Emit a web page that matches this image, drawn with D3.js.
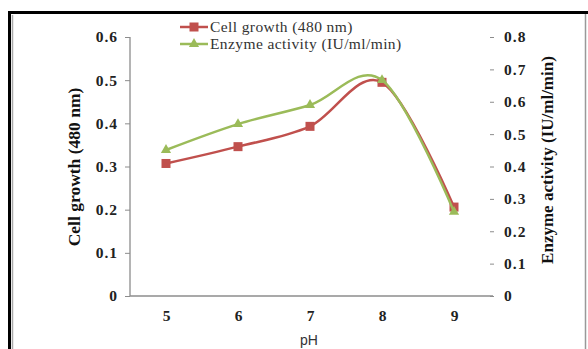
<!DOCTYPE html>
<html>
<head>
<meta charset="utf-8">
<script src="https://cdn.jsdelivr.net/npm/d3@7/dist/d3.min.js"></script>
<style>
  html, body { margin: 0; padding: 0; background: #fff; }
  svg { display: block; }
</style>
</head>
<body>
<svg id="chart" width="588" height="349"></svg>
<script>
const categories = ["5", "6", "7", "8", "9"];
const cellGrowth = [0.307, 0.346, 0.393, 0.495, 0.206];
const enzymeActivity = [0.451, 0.531, 0.59, 0.667, 0.26];
const leftTicks = [0, 0.1, 0.2, 0.3, 0.4, 0.5, 0.6];
const rightTicks = [0, 0.1, 0.2, 0.3, 0.4, 0.5, 0.6, 0.7, 0.8];
const seriesNames = ["Cell growth (480 nm)", "Enzyme activity (IU/ml/min)"];

const svg = d3.select("#chart");
const W = 588, H = 349;
const L = 130, R = 490, T = 37, B = 296;

// frame
svg.append("rect").attr("x", 0).attr("y", 0).attr("width", W).attr("height", H).attr("fill", "#fff");
svg.append("line").attr("x1", 12.5).attr("x2", 12.5).attr("y1", 15).attr("y2", H).attr("stroke", "#aaa").attr("stroke-width", 1.5);
svg.append("line").attr("x1", 9.5).attr("x2", 9.5).attr("y1", 11).attr("y2", H).attr("stroke", "#000").attr("stroke-width", 3);
svg.append("line").attr("x1", 8).attr("x2", W).attr("y1", 12.5).attr("y2", 12.5).attr("stroke", "#000").attr("stroke-width", 3);
svg.append("line").attr("x1", 585.5).attr("x2", 585.5).attr("y1", 14).attr("y2", H).attr("stroke", "#999").attr("stroke-width", 1.5);

const x = d3.scalePoint().domain(categories).range([L, R]).padding(0.5);
const yL = d3.scaleLinear().domain([0, 0.6]).range([B, T]);
const yR = d3.scaleLinear().domain([0, 0.8]).range([B, T]);

const tickFont = "'Liberation Serif', 'Times New Roman', serif";

// left axis
const gL = svg.append("g").attr("transform", `translate(${L},0)`)
  .call(d3.axisLeft(yL).tickValues(leftTicks).tickSize(5).tickPadding(7).tickFormat(d => d === 0 ? "0" : d3.format(".1f")(d)));
gL.select(".domain").attr("stroke", "#8c8c8c").attr("stroke-width", 1.3).attr("d", `M0,${T}V${B}`);
gL.selectAll(".tick line").attr("stroke", "#8c8c8c");
gL.selectAll(".tick text").attr("font-family", tickFont).attr("font-weight", "bold").attr("font-size", 15.5).attr("fill", "#222").attr("letter-spacing", 1);

// right axis
const gR = svg.append("g").attr("transform", `translate(${R + 4},0)`)
  .call(d3.axisRight(yR).tickValues(rightTicks).tickSize(-4).tickPadding(10).tickFormat(d => d === 0 ? "0" : d3.format(".1f")(d)));
gR.select(".domain").remove();
gR.selectAll(".tick line").attr("stroke", "#8c8c8c");
gR.selectAll(".tick text").attr("font-family", tickFont).attr("font-weight", "bold").attr("font-size", 15.5).attr("fill", "#222").attr("letter-spacing", 1);

// bottom axis
const gB = svg.append("g").attr("transform", `translate(0,${B})`)
  .call(d3.axisBottom(x).tickSize(0).tickPadding(14));
gB.select(".domain").attr("stroke", "#8c8c8c").attr("stroke-width", 1.3).attr("d", `M${L},0H${R + 3}`);
gB.selectAll(".tick text").attr("font-family", tickFont).attr("font-weight", "bold").attr("font-size", 15.5).attr("fill", "#222");

// axis titles
svg.append("text").attr("transform", `translate(80,167) rotate(-90)`).attr("text-anchor", "middle")
  .attr("font-family", tickFont).attr("font-weight", "bold").attr("font-size", 17.5).attr("fill", "#111")
  .text("Cell growth (480 nm)");
svg.append("text").attr("transform", `translate(553,160) rotate(-90)`).attr("text-anchor", "middle")
  .attr("font-family", tickFont).attr("font-weight", "bold").attr("font-size", 17).attr("fill", "#111")
  .text("Enzyme activity (IU/ml/min)");
svg.append("text").attr("x", 309).attr("y", 345).attr("text-anchor", "middle")
  .attr("font-family", "'Liberation Sans', Arial, sans-serif").attr("font-size", 14).attr("fill", "#333")
  .text("pH");

const red = "#c0504d", green = "#9bbb59";
const curve = d3.curveCardinal.tension(0);

const lineL = d3.line().x((d, i) => x(categories[i])).y(d => yL(d)).curve(curve);
const lineR = d3.line().x((d, i) => x(categories[i])).y(d => yR(d)).curve(curve);

svg.append("path").datum(cellGrowth).attr("d", lineL).attr("fill", "none").attr("stroke", red).attr("stroke-width", 2.5);
svg.append("g").selectAll("rect").data(cellGrowth).join("rect")
  .attr("x", (d, i) => x(categories[i]) - 4.5).attr("y", d => yL(d) - 4.5)
  .attr("width", 9).attr("height", 9).attr("fill", red);

svg.append("path").datum(enzymeActivity).attr("d", lineR).attr("fill", "none").attr("stroke", green).attr("stroke-width", 2.5);
const tri = d3.symbol().type(d3.symbolTriangle).size(45);
svg.append("g").selectAll("path").data(enzymeActivity).join("path")
  .attr("transform", (d, i) => `translate(${x(categories[i])},${yR(d)})`)
  .attr("d", tri).attr("fill", green);

// legend
const leg = svg.append("g");
const legY = [27, 44];
[red, green].forEach((c, i) => {
  leg.append("line").attr("x1", 180).attr("x2", 208).attr("y1", legY[i]).attr("y2", legY[i]).attr("stroke", c).attr("stroke-width", 2.5);
  if (i === 0) {
    leg.append("rect").attr("x", 189.5).attr("y", legY[i] - 4.5).attr("width", 9).attr("height", 9).attr("fill", c);
  } else {
    leg.append("path").attr("transform", `translate(194,${legY[i]})`).attr("d", tri).attr("fill", c);
  }
  leg.append("text").attr("x", 210).attr("y", legY[i] + 5).attr("font-family", tickFont).attr("font-size", 15.5)
    .attr("fill", "#333").attr("letter-spacing", 0.4).text(seriesNames[i]);
});
</script>
</body>
</html>
